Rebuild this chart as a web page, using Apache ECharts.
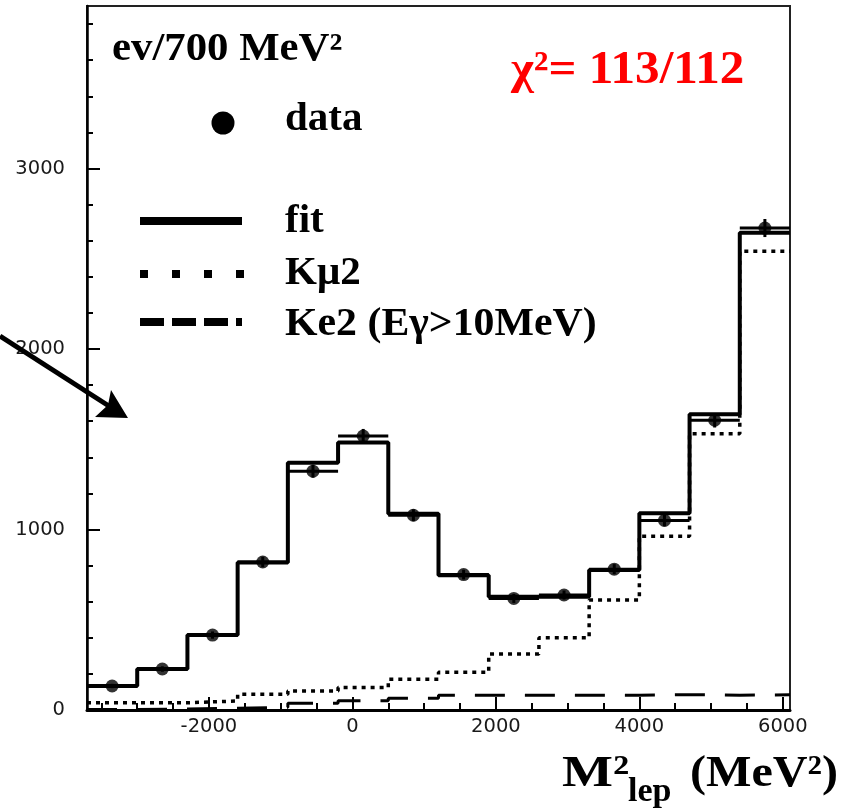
<!DOCTYPE html>
<html><head><meta charset="utf-8">
<script src="https://cdn.jsdelivr.net/npm/echarts@6/dist/echarts.min.js"></script>
<style>html,body{margin:0;padding:0;background:#fff}#c{width:857px;height:809px}</style>
</head><body><div id="c"></div>
<script>
// ---- data ----
const binEdges   = [-3700,-3000,-2300,-1600,-900,-200,500,1200,1900,2600,3300,4000,4700,5400,6100];
const dataValues = [133,227,415,820,1323,1518,1079,750,618,637,780,1050,1605,2670];
const dataErrors = [12,15,20,29,36,39,33,27,25,25,28,32,40,50];
const fitValues  = [133,227,415,817,1370,1482,1087,747,627,627,775,1090,1638,2644];
const kmu2Values = [40,40,50,87,105,124,170,209,310,400,609,963,1531,2541];
const ke2Values  = [3,5,10,15,37,51,65,82,82,82,82,85,82,84];
const xMajorTicks = [-2000,0,2000,4000,6000];
const xMinorTicks = [-3500,-3000,-2500,-1500,-1000,-500,500,1000,1500,2500,3000,3500,4500,5000,5500];
const yMajorTicks = [0,1000,2000,3000];
const yMinorTicks = [200,400,600,800,1200,1400,1600,1800,2200,2400,2600,2800,3200,3400,3600,3800];
const seriesNames = ['data','fit','K\u03bc2','Ke2 (E\u03b3>10MeV)'];

function steps(vals){
  const pts=[];
  vals.forEach((v,i)=>{pts.push([binEdges[i],v]);pts.push([binEdges[i+1],v]);});
  return pts;
}
const SERIF = '"Liberation Serif","Times New Roman",serif';
const chart = echarts.init(document.getElementById('c'));
const plainNum = v => String(v);

function xAxisCfg(ticks, len, showLine, labels){
  return {type:'value', min:-3700, max:6100, position:'bottom',
    axisLine:{show:showLine, onZero:false, lineStyle:{color:'#000', width:3}},
    axisTick:{show:true, inside:true, length:len, customValues:ticks, lineStyle:{color:'#000', width:2}},
    axisLabel:labels ? {customValues:ticks, formatter:plainNum, fontFamily:'DejaVu Sans', fontSize:19.5, color:'#1a1a1a', margin:7} : {show:false},
    splitLine:{show:false}};
}
function yAxisCfg(ticks, len, showLine, labels){
  return {type:'value', min:0, max:3900, position:'left',
    axisLine:{show:showLine, onZero:false, lineStyle:{color:'#000', width:2.5}},
    axisTick:{show:true, inside:true, length:len, customValues:ticks, lineStyle:{color:'#000', width:2}},
    axisLabel:labels ? {customValues:ticks, formatter:plainNum, fontFamily:'DejaVu Sans', fontSize:19.5, color:'#1a1a1a', margin:22} : {show:false},
    splitLine:{show:false}};
}
function txt(text, x, baseline, size, opts){
  opts = opts || {};
  return {type:'text', x:x, y:baseline - 0.3375*size, scaleX:opts.sx||1, z:100,
    style:{text:text, fontFamily:SERIF, fontWeight:'bold', fontSize:size, fill:opts.color||'#000',
      align:'left', verticalAlign:'middle', textAlign:'left', textVerticalAlign:'middle'}};
}

const option = {
  animation:false,
  backgroundColor:'#fff',
  grid:{left:87, right:67, top:6, bottom:99, show:true, borderColor:'#222', borderWidth:2, backgroundColor:'transparent'},
  xAxis:[xAxisCfg(xMajorTicks,13,true,true), xAxisCfg(xMinorTicks,7,false,false)],
  yAxis:[yAxisCfg(yMajorTicks,13,true,true), yAxisCfg(yMinorTicks,6,false,false)],
  series:[
    {name:seriesNames[3], type:'line', data:steps(ke2Values), symbol:'none', clip:false, z:2,
      lineStyle:{color:'#000', width:3, type:[30,20]}},
    {name:seriesNames[2], type:'line', data:steps(kmu2Values), symbol:'none', clip:false, z:3,
      lineStyle:{color:'#000', width:3.5, type:[4,5]}},
    {name:seriesNames[1], type:'line', data:steps(fitValues), symbol:'none', clip:false, z:4,
      lineStyle:{color:'#000', width:4}},
    {name:seriesNames[0]+' errors', type:'custom', z:5, clip:false,
      data:dataValues.map((v,i)=>[binEdges[i],binEdges[i+1],v,dataErrors[i]]),
      encode:{x:[0,1], y:2},
      renderItem:function(params, api){
        const lo=api.value(0), hi=api.value(1), v=api.value(2), e=api.value(3);
        const a=api.coord([lo,v]), b=api.coord([hi,v]);
        const c=(lo+hi)/2;
        const t=api.coord([c,v+e]), d=api.coord([c,v-e]);
        return {type:'group', children:[
          {type:'line', shape:{x1:a[0],y1:a[1],x2:b[0],y2:b[1]}, style:{stroke:'#000', lineWidth:3}},
          {type:'line', shape:{x1:t[0],y1:t[1],x2:d[0],y2:d[1]}, style:{stroke:'#000', lineWidth:3}}
        ]};
      }},
    {name:seriesNames[0], type:'scatter', z:6, symbol:'circle', symbolSize:13,
      itemStyle:{color:'#000'},
      data:dataValues.map((v,i)=>[(binEdges[i]+binEdges[i+1])/2, v])}
  ],
  graphic:[
    // y-axis unit label and chi2
    txt('ev/700 MeV\u00b2', 112, 63, 40, {sx:1.07}),
    txt('\u03c7\u00b2= 113/112', 511, 87, 47, {color:'#ff0000', sx:1.045}),
    // legend
    {type:'circle', shape:{cx:223, cy:123, r:11.5}, style:{fill:'#000'}, z:100},
    txt(seriesNames[0], 285, 133, 41),
    {type:'line', shape:{x1:140,y1:221,x2:242,y2:221}, style:{stroke:'#000', lineWidth:8}, z:100},
    txt(seriesNames[1], 285, 235, 41),
    {type:'line', shape:{x1:140,y1:274,x2:244,y2:274}, style:{stroke:'#000', lineWidth:8, lineDash:[8,24]}, z:100},
    txt(seriesNames[2], 285, 287, 41),
    {type:'line', shape:{x1:140,y1:322,x2:242,y2:322}, style:{stroke:'#000', lineWidth:8, lineDash:[24,8]}, z:100},
    txt(seriesNames[3], 285, 338, 41, {sx:1.02}),
    // x-axis title
    txt('M\u00b2', 562, 790, 45, {sx:1.2}),
    txt('lep', 628, 804, 34),
    txt('(MeV\u00b2)', 690, 790, 45, {sx:1.07}),
    // arrow
    {type:'line', shape:{x1:0,y1:336,x2:112,y2:408}, style:{stroke:'#000', lineWidth:5}, z:100},
    {type:'polygon', shape:{points:[[128,418],[111,390],[108,405],[95,417]]}, style:{fill:'#000'}, z:100}
  ]
};
chart.setOption(option);
</script>
</body></html>
